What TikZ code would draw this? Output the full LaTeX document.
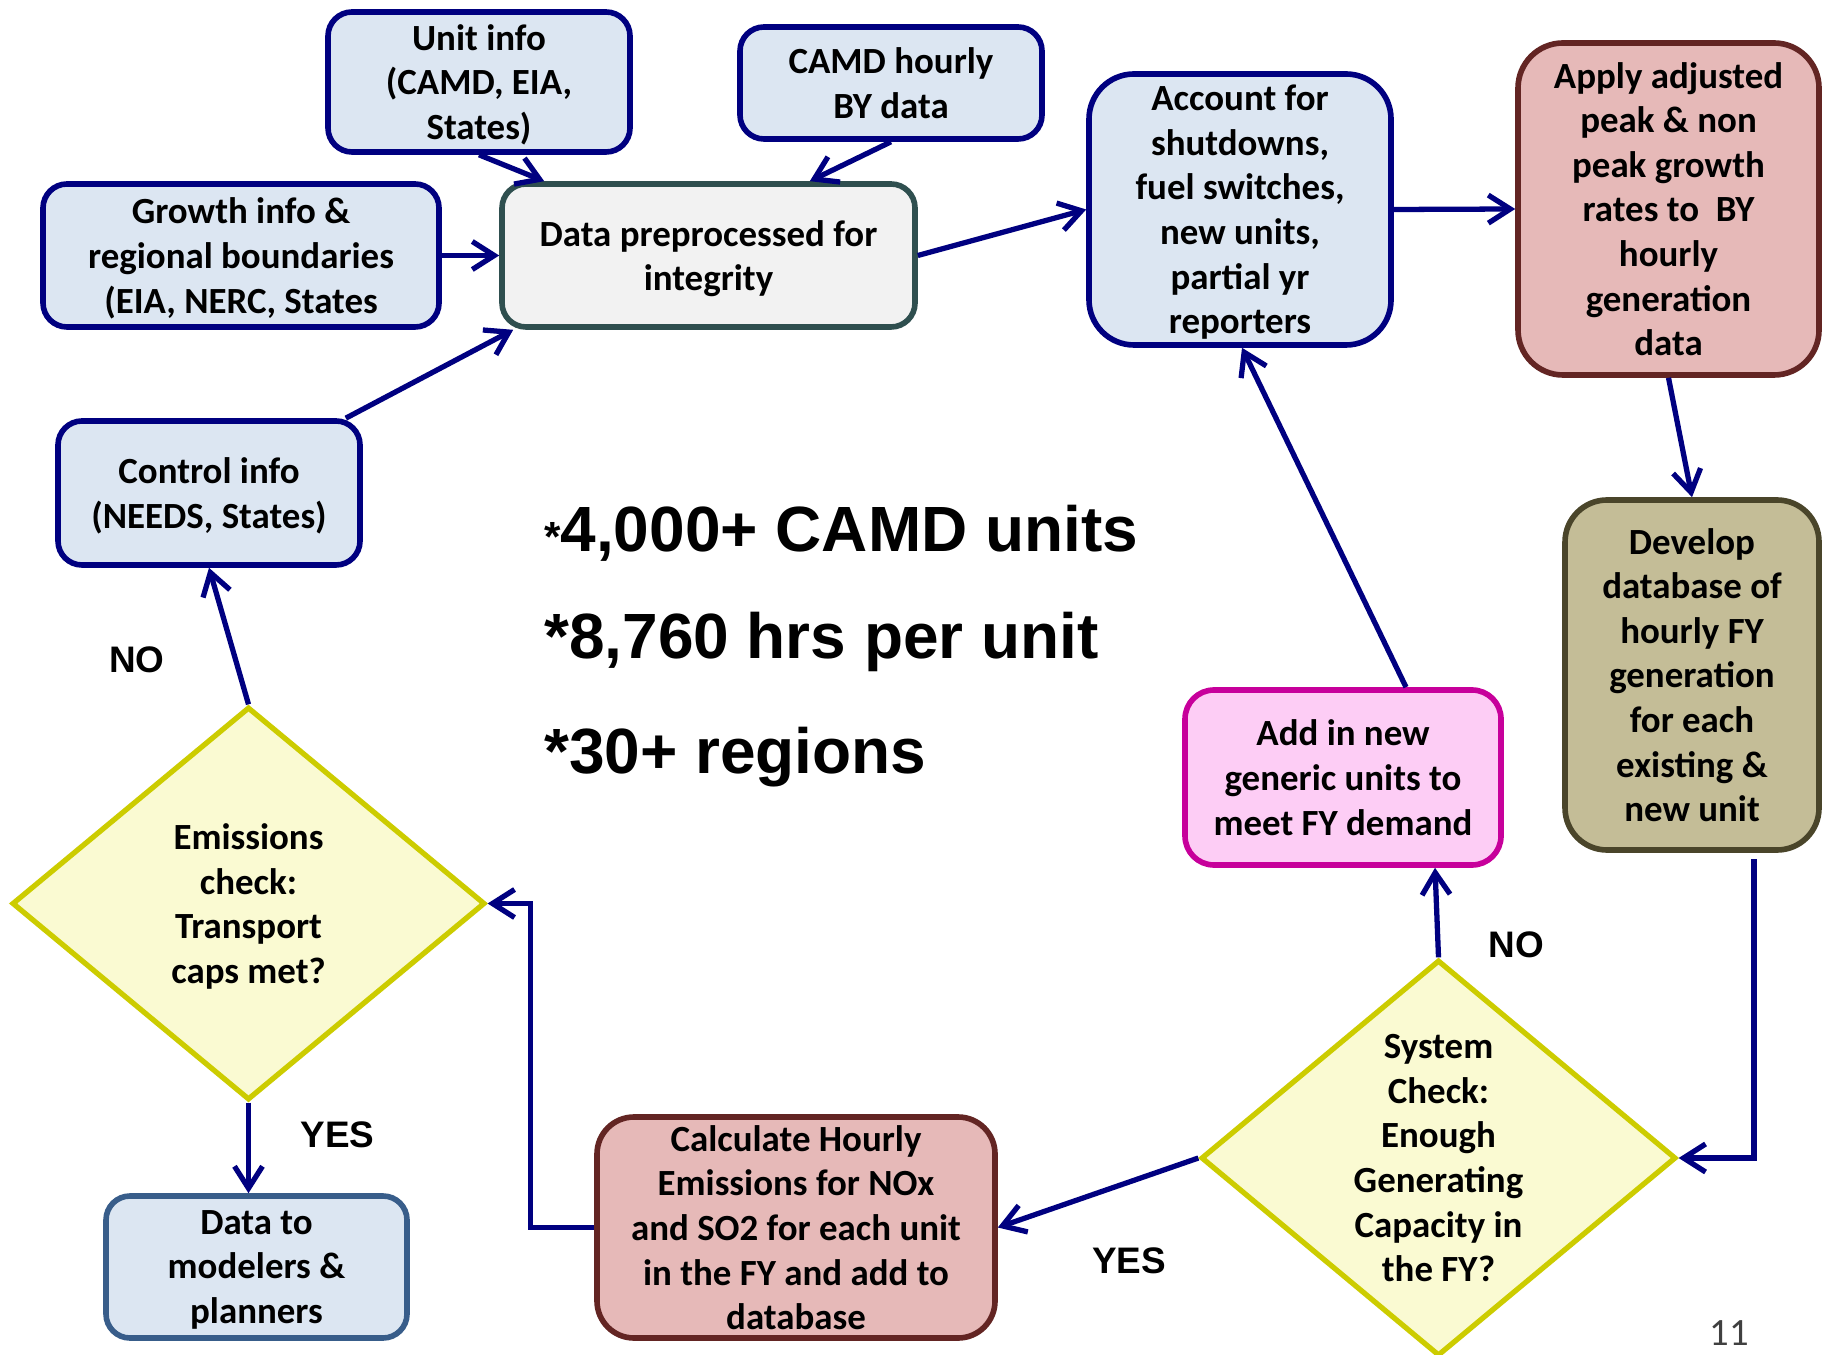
\documentclass[tikz,border=0pt]{standalone}
\usepackage{fontspec}
\setmainfont{Carlito}
\newfontfamily\arialfont{Liberation Sans}
\usetikzlibrary{shapes.geometric,arrows.meta}

\definecolor{navyline}{RGB}{0,0,128}
\definecolor{boxblue}{RGB}{220,230,242}
\definecolor{boxgrey}{RGB}{242,242,242}
\definecolor{slateline}{RGB}{47,79,79}
\definecolor{boxred}{RGB}{230,185,184}
\definecolor{redline}{RGB}{99,37,35}
\definecolor{boxolive}{RGB}{196,189,151}
\definecolor{oliveline}{RGB}{74,69,42}
\definecolor{boxpink}{RGB}{253,205,245}
\definecolor{magentaline}{RGB}{199,0,155}
\definecolor{boxyellow}{RGB}{250,250,210}
\definecolor{yellowline}{RGB}{204,204,0}
\definecolor{steelline}{RGB}{56,93,138}

\begin{document}
\begin{tikzpicture}[
  box/.style={draw, rounded corners=0.24cm, line width=1.6pt, align=center, inner sep=0pt, text depth=0pt, font=\fontsize{10.5}{12.7}\selectfont\bfseries},
  bluebox/.style={box, draw=navyline, fill=boxblue},
  redbox/.style={box, draw=redline, fill=boxred},
  decision/.style={diamond, aspect=1.2, draw=yellowline, fill=boxyellow, line width=1.5pt, align=center, inner sep=0pt, text depth=0pt, font=\fontsize{10.5}{12.7}\selectfont\bfseries},
  arr/.style={draw=navyline, line width=1.5pt, -{Straight Barb[length=2.2mm,width=2.8mm]}},
  lbl/.style={font=\arialfont\bfseries\fontsize{10.5}{12}\selectfont},
  bigtxt/.style={font=\arialfont\bfseries\fontsize{18.2}{22}\selectfont, inner sep=0pt},
  pagenum/.style={font=\fontsize{11}{13}\selectfont, text=black!75, inner sep=0pt}
]
\useasboundingbox (0,0) rectangle (18.25,-13.55);
% Boites
\node[bluebox, minimum width=3.02cm, minimum height=1.40cm] (unit) at (4.79,-0.82) {Unit info\\(CAMD, EIA,\\States)};
\node[bluebox, minimum width=3.02cm, minimum height=1.12cm] (camd) at (8.91,-0.83) {CAMD hourly\\BY data};
\node[bluebox, minimum width=3.96cm, minimum height=1.43cm] (growth) at (2.41,-2.555) {Growth info \&\\regional boundaries\\(EIA, NERC, States};
\node[box, draw=slateline, fill=boxgrey, minimum width=4.13cm, minimum height=1.43cm] (prep) at (7.085,-2.555) {Data preprocessed for\\integrity};
\node[bluebox, rounded corners=0.45cm, minimum width=3.02cm, minimum height=2.71cm] (account) at (12.40,-2.095) {Account for\\shutdowns,\\fuel switches,\\new units,\\partial yr\\reporters};
\node[redbox, rounded corners=0.45cm, minimum width=3.01cm, minimum height=3.32cm] (apply) at (16.685,-2.09) {Apply adjusted\\peak \& non\\peak growth\\rates to\ \ BY\\hourly\\generation\\data};
\node[bluebox, minimum width=3.02cm, minimum height=1.44cm] (control) at (2.09,-4.93) {Control info\\(NEEDS, States)};
\node[decision, minimum width=4.73cm, minimum height=3.93cm] (emis) at (2.485,-9.035) {Emissions\\check:\\Transport\\caps met?};
\node[box, draw=steelline, fill=boxblue, minimum width=3.01cm, minimum height=1.42cm] (modelers) at (2.565,-12.67) {Data to\\modelers \&\\planners};
\node[redbox, rounded corners=0.37cm, minimum width=3.98cm, minimum height=2.21cm] (calc) at (7.96,-12.275) {Calculate Hourly\\Emissions for NOx\\and SO2 for each unit\\in the FY and add to\\database};
\node[decision, minimum width=4.75cm, minimum height=3.96cm] (system) at (14.385,-11.58) {System\\Check:\\Enough\\Generating\\Capacity in\\the FY?};
\node[box, draw=magentaline, fill=boxpink, rounded corners=0.29cm, minimum width=3.16cm, minimum height=1.75cm] (addnew) at (13.43,-7.775) {Add in new\\generic units to\\meet FY demand};
\node[box, draw=oliveline, fill=boxolive, rounded corners=0.42cm, minimum width=2.54cm, minimum height=3.50cm] (develop) at (16.92,-6.75) {Develop\\database of\\hourly FY\\generation\\for each\\existing \&\\new unit};
% Textes
\node[bigtxt, anchor=base west] (units) at (5.435,-5.52) {{\fontsize{12}{14}\selectfont *}4,000+ CAMD units};
\node[bigtxt, anchor=base west] (hours) at (5.435,-6.59) {*8,760 hrs per unit};
\node[bigtxt, anchor=base west] (regions) at (5.435,-7.74) {*30+ regions};
\node[lbl] (no1) at (1.37,-6.60) {NO};
\node[lbl] (yes1) at (3.375,-11.35) {YES};
\node[lbl] (yes2) at (11.29,-12.605) {YES};
\node[lbl] (no2) at (15.165,-9.45) {NO};
\node[pagenum, anchor=north] (page) at (17.29,-13.20) {11};
% Fleches
\coordinate (devout) at (17.54,-8.59);
\draw[arr] (unit.south) -- ([xshift=0.45cm]prep.north west);
\draw[arr] (camd.south) -- ([xshift=-1.08cm]prep.north east);
\draw[arr] (growth.east) -- (prep.west);
\draw[arr] ([xshift=-0.17cm]control.north east) -- ([xshift=0.14cm]prep.south west);
\draw[arr] (prep.east) -- (account.west);
\draw[arr] (account.east) -- (apply.west);
\draw[arr] (apply.south) -- (develop.north);
\draw[arr] (devout) |- (system.east);
\draw[arr] (system.north) -- ([xshift=0.92cm]addnew.south);
\draw[arr] ([xshift=0.63cm]addnew.north) -- ([xshift=0.02cm]account.south);
\draw[arr] (system.west) -- (calc.east);
\draw[arr] (calc.west) -- ++(-0.64,0) |- (emis.east);
\draw[arr] (emis.north) -- (control.south);
\draw[arr] (emis.south) -- (emis.south |- modelers.north);
\end{tikzpicture}
\end{document}
